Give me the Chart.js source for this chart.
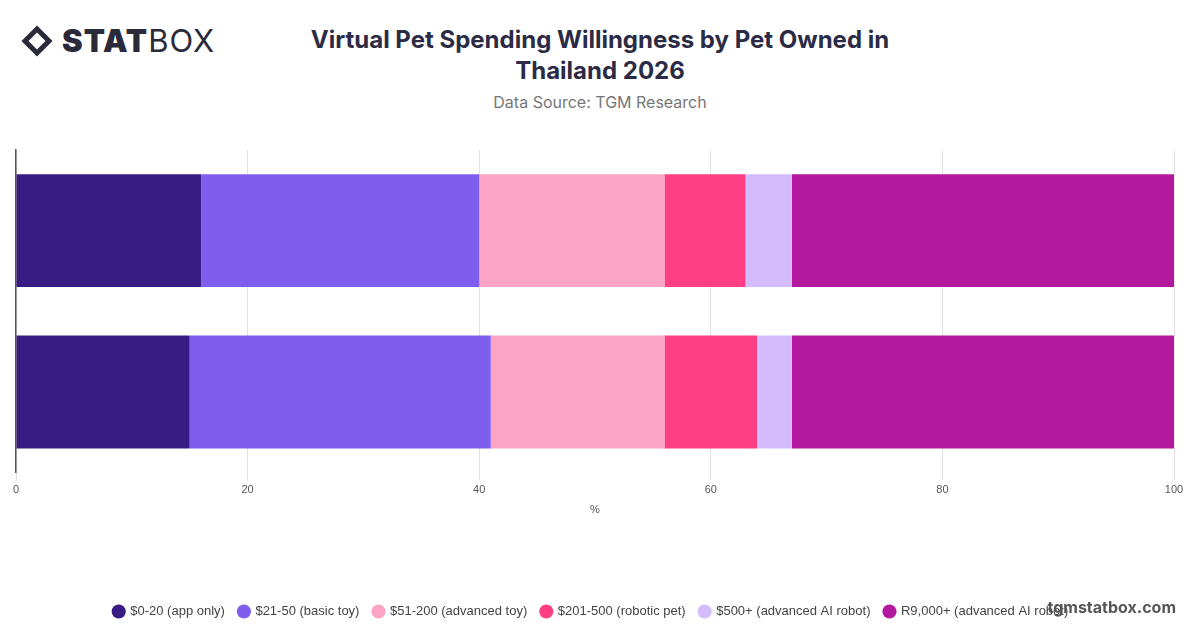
<!DOCTYPE html>
<html>
<head>
<meta charset="utf-8">
<script src="https://cdn.jsdelivr.net/npm/chart.js@4"></script>
<style>
  body { margin: 0; width: 1200px; height: 628px; background: #fff; font-family: Inter, "Noto Sans", sans-serif; position: relative; overflow: hidden; }
  .logo { position: absolute; left: 26px; top: 22px; font-size: 31px; color: #2a2a3a; letter-spacing: 1px; display: flex; align-items: center; }
  .logo b { font-weight: 900; }
  .logo span { font-weight: 400; }
  .diamond { width: 22px; height: 22px; border: 5px solid #2a2a3a; transform: rotate(45deg); margin-right: 14px; box-sizing: border-box; }
  h1 { position: absolute; left: 290px; width: 620px; top: 24px; margin: 0; text-align: center; font-size: 24px; font-weight: 700; color: #2b2b45; line-height: 31px; }
  .src { position: absolute; left: 250px; width: 700px; top: 92px; text-align: center; font-size: 16px; color: #777; }
  .wm { position: absolute; right: 24px; top: 597px; font-size: 16px; font-weight: 700; color: #555; }
  #wrap { position: absolute; left: 0; top: 140px; width: 1200px; height: 488px; }
</style>
</head>
<body>
<div class="logo"><div class="diamond"></div><b>STAT</b><span>BOX</span></div>
<h1>Virtual Pet Spending Willingness by Pet Owned in Thailand 2026</h1>
<div class="src">Data Source: TGM Research</div>
<div id="wrap"><canvas id="c"></canvas></div>
<div class="wm">tgmstatbox.com</div>
<script>
const categories = ["Pet owner", "Non-owner"];
const seriesNames = ["$0-20 (app only)", "$21-50 (basic toy)", "$51-200 (advanced toy)", "$201-500 (robotic pet)", "$500+ (advanced AI robot)", "R9,000+ (advanced AI robot)"];
const seriesColors = ["#371d83", "#7f5eee", "#fda4c4", "#fe3f83", "#d4bbfb", "#b3199e"];
const app = [16, 15];
const basic = [24, 26];
const advToy = [16, 15];
const robotic = [7, 8];
const aiRobot = [4, 3];
const r9000 = [33, 33];
const values = [app, basic, advToy, robotic, aiRobot, r9000];

new Chart(document.getElementById('c'), {
  type: 'bar',
  data: {
    labels: categories,
    datasets: values.map((v, i) => ({
      label: seriesNames[i], data: v, backgroundColor: seriesColors[i],
      categoryPercentage: 0.7, barPercentage: 1
    }))
  },
  options: {
    indexAxis: 'y',
    responsive: true,
    maintainAspectRatio: false,
    animation: false,
    layout: { padding: { left: 8, right: 26, top: 10, bottom: 0 } },
    scales: {
      x: {
        stacked: true, min: 0, max: 100,
        ticks: { stepSize: 20, color: '#555', font: { size: 11 } },
        grid: { color: '#e2e2e2' },
        border: { display: false },
        title: { display: true, text: '%', color: '#555', font: { size: 11 }, padding: { top: 4, bottom: 74 } }
      },
      y: {
        stacked: true,
        ticks: { display: false },
        grid: { display: false },
        border: { color: '#555', width: 1.5 }
      }
    },
    plugins: {
      legend: {
        position: 'bottom',
        labels: { usePointStyle: true, pointStyle: 'circle', boxWidth: 10, boxHeight: 10, padding: 14, color: '#444', font: { size: 13 } }
      },
      tooltip: { enabled: false }
    }
  }
});
</script>
</body>
</html>
